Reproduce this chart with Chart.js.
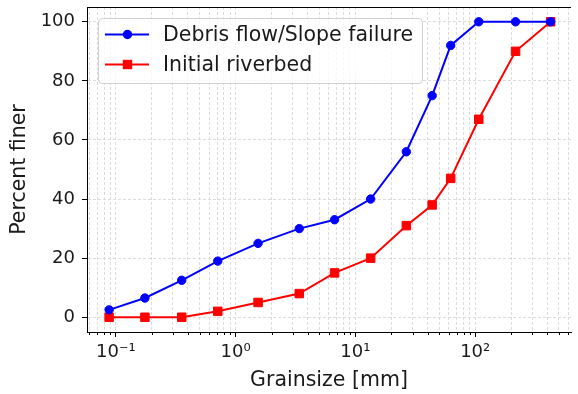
<!DOCTYPE html>
<html lang="en">
<head>
<meta charset="UTF-8" />
<title>Grain size distribution</title>
<script src="https://cdn.jsdelivr.net/npm/chart.js"></script>
<style>
  html, body { margin: 0; padding: 0; background: #fff; }
  #chart { display: block; }
</style>
</head>
<body>
<canvas id="chart" width="578" height="394"></canvas>
<script>
  // values
  const grainSize = [0.088, 0.175, 0.355, 0.71, 1.54, 3.4, 6.7, 13.4, 26.6, 43.7, 62.4, 107, 217, 426];
  const debrisFlow = [2.5, 6.5, 12.5, 19, 25, 30, 33, 40, 56, 75, 92, 100, 100, 100];
  const riverbed = [0, 0, 0, 2, 5, 8, 15, 20, 31, 38, 47, 67, 90, 100];
  const seriesNames = ['Debris flow/Slope failure', 'Initial riverbed'];
  const xMajorTicks = [0.1, 1, 10, 100];
  const xTickLabels = ['10⁻¹', '10⁰', '10¹', '10²'];
  const yTicks = [0, 20, 40, 60, 80, 100];

  const X_MIN = 0.0575, X_MAX = 630, Y_MIN = -5, Y_MAX = 105;
  const FONT = 'DejaVu Sans';
  const TEXT = '#1a1a1a';
  const TICK_SIZE = 18, LABEL_SIZE = 20.5;

  // log ticks: decades plus 2..9 minors
  const xAllTicks = [];
  [0.01, 0.1, 1, 10, 100].forEach(d => {
    if (xMajorTicks.includes(d)) xAllTicks.push(d);
    for (let m = 2; m <= 9; m++) {
      const v = +(m * d).toPrecision(3);
      if (v >= X_MIN && v <= X_MAX) xAllTicks.push(v);
    }
  });
  const isMajor = v => xMajorTicks.includes(v);

  const extras = {
    id: 'extras',
    afterDraw(chart) {
      const { ctx, chartArea: a, scales: { x } } = chart;
      ctx.save();
      // top spine + short minor ticks
      ctx.strokeStyle = '#000';
      ctx.lineWidth = 1;
      ctx.beginPath();
      ctx.moveTo(a.left, a.top + 0.5);
      ctx.lineTo(a.right, a.top + 0.5);
      x.ticks.forEach(t => {
        if (isMajor(t.value)) return;
        const px = Math.round(x.getPixelForValue(t.value)) + 0.5;
        ctx.moveTo(px, a.bottom);
        ctx.lineTo(px, a.bottom + 3);
      });
      ctx.stroke();

      // legend box, matplotlib style
      ctx.font = LABEL_SIZE + 'px "' + FONT + '"';
      const ds = chart.data.datasets;
      const textW = Math.max(...ds.map(d => ctx.measureText(d.label).width));
      const bx = a.left + 11, by = a.top + 11;
      const bw = 65 + textW + 9, bh = 65;
      ctx.beginPath();
      ctx.roundRect(bx + 0.5, by + 0.5, bw, bh, 4);
      ctx.fillStyle = 'rgba(255,255,255,0.8)';
      ctx.fill();
      ctx.strokeStyle = '#d0d0d0';
      ctx.stroke();
      ds.forEach((d, i) => {
        const ry = by + 16.5 + i * 30;
        ctx.strokeStyle = d.borderColor;
        ctx.lineWidth = 2;
        ctx.beginPath();
        ctx.moveTo(bx + 7, ry);
        ctx.lineTo(bx + 51, ry);
        ctx.stroke();
        ctx.fillStyle = d.borderColor;
        const mx = bx + 29.5;
        if (d.pointStyle === 'rect') {
          ctx.fillRect(mx - 4.7, ry - 4.7, 9.4, 9.4);
        } else {
          ctx.beginPath();
          ctx.arc(mx, ry, 4.7, 0, Math.PI * 2);
          ctx.fill();
        }
        ctx.fillStyle = TEXT;
        ctx.textBaseline = 'middle';
        ctx.textAlign = 'left';
        ctx.fillText(d.label, bx + 65, ry + 1);
      });
      ctx.restore();
    }
  };

  new Chart(document.getElementById('chart'), {
    type: 'line',
    data: {
      datasets: [
        {
          label: seriesNames[0],
          data: grainSize.map((g, i) => ({ x: g, y: debrisFlow[i] })),
          borderColor: '#0000ff',
          backgroundColor: '#0000ff',
          borderWidth: 2,
          pointStyle: 'circle',
          pointRadius: 4.2,
          pointBorderWidth: 1,
          tension: 0
        },
        {
          label: seriesNames[1],
          data: grainSize.map((g, i) => ({ x: g, y: riverbed[i] })),
          borderColor: '#ff0000',
          backgroundColor: '#ff0000',
          borderWidth: 2,
          pointStyle: 'rect',
          pointRadius: 6,
          pointBorderWidth: 1,
          tension: 0
        }
      ]
    },
    options: {
      responsive: false,
      animation: false,
      layout: { padding: { top: 6, right: 0, left: 0, bottom: 0 } },
      plugins: {
        legend: { display: false },
        tooltip: { enabled: false }
      },
      scales: {
        x: {
          type: 'logarithmic',
          min: X_MIN,
          max: X_MAX,
          afterBuildTicks: s => { s.ticks = xAllTicks.map(v => ({ value: v })); },
          afterFit: s => {
            s.height = 62;
            s.paddingLeft = s.paddingRight = s.paddingTop = s.paddingBottom = 0;
          },
          grid: {
            color: '#dcdcdc',
            lineWidth: 1,
            tickLength: 5,
            tickColor: c => (c.tick && isMajor(c.tick.value)) ? '#000' : 'rgba(0,0,0,0)'
          },
          border: { color: '#000', width: 1, dash: [3, 2] },
          ticks: {
            autoSkip: false,
            maxRotation: 0,
            padding: 5,
            color: TEXT,
            font: { family: FONT, size: TICK_SIZE },
            callback: v => {
              const i = xMajorTicks.indexOf(v);
              return i >= 0 ? xTickLabels[i] : '';
            }
          },
          title: {
            display: true,
            text: 'Grainsize [mm]',
            color: TEXT,
            font: { family: FONT, size: LABEL_SIZE },
            padding: { top: 0, bottom: 1 }
          }
        },
        y: {
          min: Y_MIN,
          max: Y_MAX,
          afterBuildTicks: s => { s.ticks = yTicks.map(v => ({ value: v })); },
          afterFit: s => {
            s.width = 87;
            s.paddingLeft = s.paddingRight = s.paddingTop = s.paddingBottom = 0;
          },
          grid: {
            color: '#dcdcdc',
            lineWidth: 1,
            tickLength: 5,
            tickColor: '#000'
          },
          border: { color: '#000', width: 1, dash: [3, 2] },
          ticks: {
            padding: 7,
            color: TEXT,
            font: { family: FONT, size: TICK_SIZE }
          },
          title: {
            display: true,
            text: 'Percent finer',
            color: TEXT,
            font: { family: FONT, size: LABEL_SIZE },
            padding: { top: 7, bottom: 0 }
          }
        }
      }
    },
    plugins: [extras]
  });
</script>
</body>
</html>
